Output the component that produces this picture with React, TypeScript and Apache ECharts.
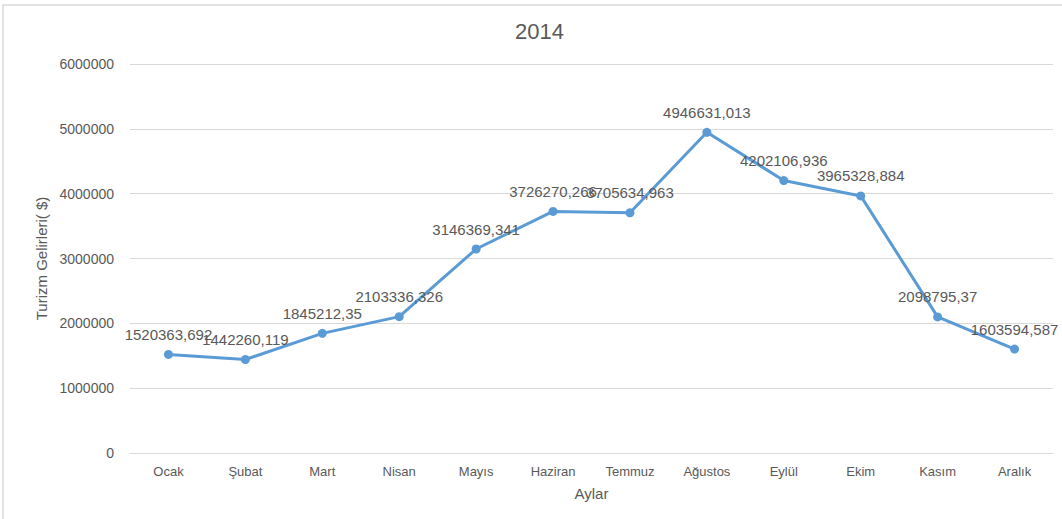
import React, { useEffect, useRef } from "react";
import * as echarts from "echarts";

const title = "2014";
const months = ["Ocak", "Şubat", "Mart", "Nisan", "Mayıs", "Haziran", "Temmuz", "Ağustos", "Eylül", "Ekim", "Kasım", "Aralık"];
const revenues = [1520363.692, 1442260.119, 1845212.35, 2103336.326, 3146369.341, 3726270.266, 3705634.963, 4946631.013, 4202106.936, 3965328.884, 2098795.37, 1603594.587];
const yAxisName = "Turizm Gelirleri( $)";
const xAxisName = "Aylar";

const FONT = "'Liberation Sans', Arial, sans-serif";
const TEXT = "#595959";
const GRID = "#d9d9d9";

export default function App() {
  const ref = useRef<HTMLDivElement>(null);
  useEffect(() => {
    document.body.style.margin = "0";
    const chart = echarts.init(ref.current!, null, { renderer: "svg" });
    chart.setOption({
      animation: false,
      backgroundColor: "#ffffff",
      textStyle: { fontFamily: FONT },
      title: {
        text: title,
        left: 510,
        top: 15,
        textStyle: { fontFamily: FONT, fontSize: 22, fontWeight: "normal", color: TEXT },
      },
      graphic: [
        {
          type: "rect",
          shape: { x: 3, y: 5, width: 1200, height: 700 },
          style: { fill: "none", stroke: GRID, lineWidth: 1.5 },
          silent: true,
        },
      ],
      grid: { left: 130, right: 9, top: 64, bottom: 66, containLabel: false },
      xAxis: {
        type: "category",
        data: months,
        boundaryGap: true,
        axisLine: { lineStyle: { color: GRID } },
        axisTick: { show: false },
        axisLabel: { color: TEXT, fontSize: 13, fontFamily: FONT, margin: 12 },
        name: xAxisName,
        nameLocation: "middle",
        nameGap: 33,
        nameTextStyle: { color: TEXT, fontSize: 15, fontFamily: FONT },
      },
      yAxis: {
        type: "value",
        min: 0,
        max: 6000000,
        interval: 1000000,
        axisLine: { show: false },
        axisTick: { show: false },
        splitLine: { lineStyle: { color: GRID } },
        axisLabel: {
          color: TEXT,
          fontSize: 14,
          fontFamily: FONT,
          margin: 16,
          formatter: (v: number) => String(v),
        },
        name: yAxisName,
        nameLocation: "middle",
        nameGap: 81,
        nameTextStyle: { color: TEXT, fontSize: 15, fontFamily: FONT },
      },
      series: [
        {
          type: "line",
          data: revenues,
          symbol: "circle",
          symbolSize: 9,
          lineStyle: { color: "#5B9BD5", width: 3 },
          itemStyle: { color: "#5B9BD5" },
          label: {
            show: true,
            position: "top",
            distance: 8,
            color: TEXT,
            fontSize: 15,
            fontFamily: FONT,
            formatter: (p: any) => String(p.value).replace(".", ","),
          },
        },
      ],
    });
    return () => chart.dispose();
  }, []);
  return <div ref={ref} style={{ width: 1062, height: 519 }} />;
}
